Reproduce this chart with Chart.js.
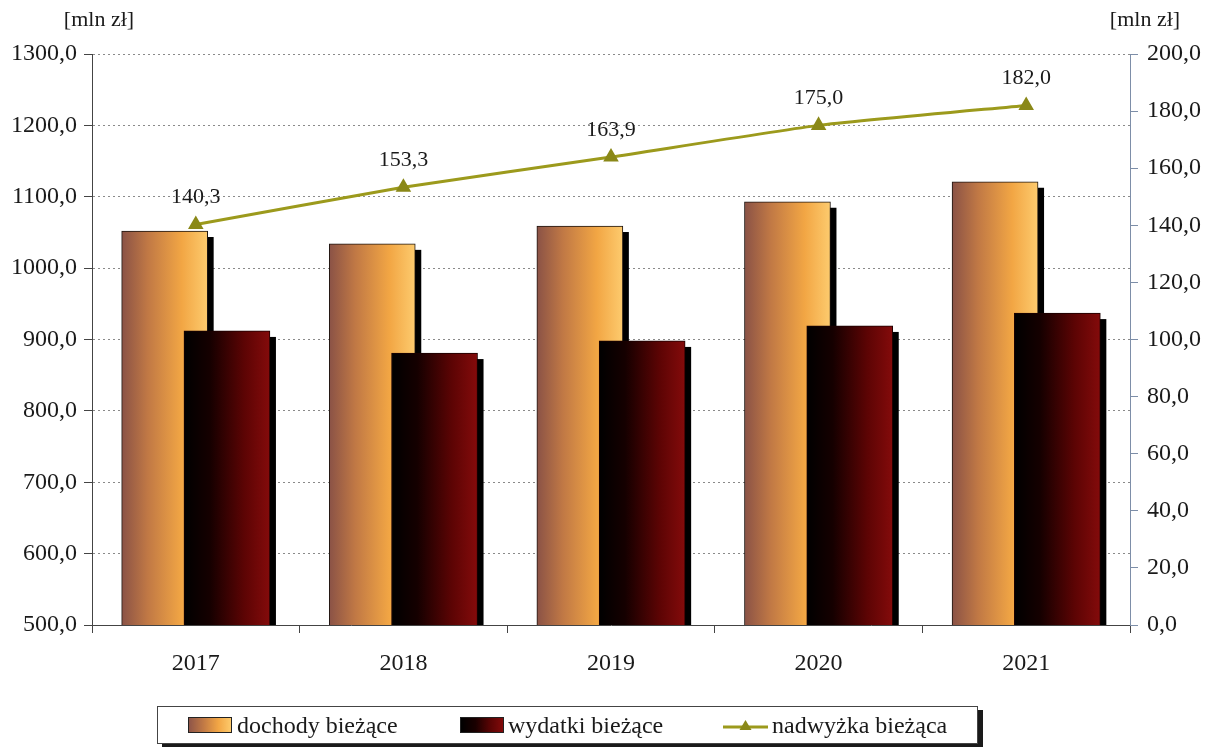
<!DOCTYPE html>
<html>
<head>
<meta charset="utf-8">
<script src="https://cdn.jsdelivr.net/npm/chart.js@4.4.1/dist/chart.umd.min.js"></script>
<style>
  body { margin: 0; background: #fff; }
  #wrap { position: relative; width: 1213px; height: 747px; font-family: "Liberation Serif", serif; }
  #legend { position: absolute; left: 157px; top: 706px; width: 819px; height: 36px; border: 1px solid #444;
            box-shadow: 5px 4px 0 #1a1a1a; background: #fff; font-size: 24px; color: #1a1a1a; }
  #legend .it { position: absolute; top: 0; height: 36px; line-height: 36px; white-space: nowrap; }
  #legend .sw { position: absolute; top: 10px; width: 44px; height: 16px; box-sizing: border-box; border: 1px solid #222; }
</style>
</head>
<body>
<div id="wrap">
  <canvas id="chart-bar" width="1213" height="747"></canvas>
  <div id="legend">
    <div class="sw" style="left:30px;background:linear-gradient(90deg,#8e5548,#c27a45 35%,#f2a645 70%,#fdca6c)"></div>
    <div class="it" style="left:79px">dochody bieżące</div>
    <div class="sw" style="left:302px;background:linear-gradient(90deg,#000,#1a0000 35%,#5a0404 70%,#820a0a)"></div>
    <div class="it" style="left:350px">wydatki bieżące</div>
    <svg style="position:absolute;left:565px;top:10px" width="45" height="18">
      <line x1="0" y1="10" x2="45" y2="10" stroke="#9c9a1c" stroke-width="3"/>
      <polygon points="22.5,3 28.5,13 16.5,13" fill="#8a8818"/>
    </svg>
    <div class="it" style="left:614px">nadwyżka bieżąca</div>
  </div>
</div>
<script>
var years = ['2017', '2018', '2019', '2020', '2021'];
var dochody = [1052, 1034, 1059, 1093, 1121];
var wydatki = [912, 881, 898, 919, 937];
var nadwyzka = [140.3, 153.3, 163.9, 175.0, 182.0];

var fmt = function (v) { return Number(v).toFixed(1).replace('.', ','); };
var serif = "Liberation Serif";

function barGradient(stops, fallback) {
  return function (c) {
    var chart = c.chart;
    if (!chart.chartArea || !c.raw) return fallback;
    var x = chart.scales.xb.getPixelForValue(c.raw.x);
    var g = chart.ctx.createLinearGradient(x - 43, 0, x + 43, 0);
    stops.forEach(function (s) { g.addColorStop(s[0], s[1]); });
    return g;
  };
}

// black drop shadow behind each bar (drawn before the bars of the same dataset)
var shadowPlugin = {
  id: 'barShadow',
  beforeDatasetDraw: function (chart, args) {
    if (args.meta.type !== 'bar') return;
    var ctx = chart.ctx, a = chart.chartArea;
    ctx.save();
    ctx.beginPath();
    ctx.rect(a.left, a.top, a.right - a.left, a.bottom - a.top);
    ctx.clip();
    ctx.fillStyle = '#000';
    args.meta.data.forEach(function (el) {
      var p = el.getProps(['x', 'y', 'base', 'width'], true);
      ctx.fillRect(p.x - p.width / 2 + 6, p.y + 6, p.width, p.base - p.y);
    });
    ctx.restore();
  }
};

// value labels above the line + axis unit titles
var labelsPlugin = {
  id: 'lineLabels',
  afterDatasetsDraw: function (chart) {
    var ctx = chart.ctx;
    ctx.save();
    ctx.font = '22px "' + serif + '"';
    ctx.fillStyle = '#1a1a1a';
    ctx.textAlign = 'center';
    ctx.textBaseline = 'bottom';
    var meta = chart.getDatasetMeta(0);
    meta.data.forEach(function (p, i) {
      ctx.fillText(fmt(nadwyzka[i]), p.x, p.y - 16);
    });
    ctx.textBaseline = 'middle';
    ctx.fillText('[mln zł]', 99, 20);
    ctx.fillText('[mln zł]', 1145, 20);
    ctx.restore();
  }
};

var ctx = document.getElementById('chart-bar').getContext('2d');

new Chart(ctx, {
  type: 'bar',
  data: {
    labels: years,
    datasets: [{
        label: 'nadwyżka bieżąca',
        type: 'line',
        xAxisID: 'xb',
        yAxisID: 'y1',
        order: 0,
        data: nadwyzka.map(function (v, i) { return { x: i, y: v }; }),
        borderColor: '#9c9a1c',
        borderWidth: 3,
        pointStyle: 'triangle',
        pointRadius: 6,
        pointBackgroundColor: '#8a8818',
        pointBorderColor: '#8a8818',
        tension: 0.15,
        fill: false
      },
      {
        label: 'wydatki bieżące',
        xAxisID: 'xb',
        yAxisID: 'y',
        order: 1,
        grouped: false,
        barThickness: 86,
        data: wydatki.map(function (v, i) { return { x: i + 0.15, y: v }; }),
        backgroundColor: barGradient([[0, '#000'], [0.3, '#150000'], [0.7, '#5c0404'], [1, '#840b0b']], '#5c0404'),
        borderColor: '#1a0000',
        borderWidth: 1,
        borderSkipped: false
      },
      {
        label: 'dochody bieżące',
        xAxisID: 'xb',
        yAxisID: 'y',
        order: 2,
        grouped: false,
        barThickness: 86,
        data: dochody.map(function (v, i) { return { x: i - 0.15, y: v }; }),
        backgroundColor: barGradient([[0, '#8a5246'], [0.3, '#c07845'], [0.7, '#f2a644'], [1, '#fdcb6e']], '#f2a644'),
        borderColor: '#1c1410',
        borderWidth: 1,
        borderSkipped: false
      }
    ]
  },
  options: {
    responsive: false,
    animation: false,
    layout: { padding: { top: 54, left: 0, right: 0, bottom: 0 } },
    plugins: {
      legend: { display: false },
      tooltip: { enabled: false }
    },
    scales: {
      x: {
        type: 'category',
        position: 'bottom',
        offset: true,
        afterFit: function (s) { s.height = 122; },
        grid: { offset: true, drawOnChartArea: false, tickLength: 8, tickColor: '#444' },
        border: { color: '#444', width: 1 },
        ticks: { color: '#1a1a1a', padding: 16, font: { size: 24, family: serif } }
      },
      xb: {
        type: 'linear',
        display: false,
        offset: false,
        min: -0.5,
        max: 4.5
      },
      y: {
        position: 'left',
        min: 500,
        max: 1300,
        afterFit: function (s) { s.width = 92; },
        grid: { color: '#8a8a8a', tickLength: 8, tickColor: '#444', tickBorderDash: [] },
        border: { color: '#444', width: 1, dash: [2, 3] },
        ticks: { stepSize: 100, color: '#1a1a1a', padding: 7, font: { size: 24, family: serif },
                 callback: function (v) { return fmt(v); } }
      },
      y1: {
        position: 'right',
        min: 0,
        max: 200,
        afterFit: function (s) { s.width = 83; },
        grid: { drawOnChartArea: false, tickLength: 8, tickColor: '#7d8ea8' },
        border: { color: '#7d8ea8', width: 1 },
        ticks: { stepSize: 20, color: '#1a1a1a', padding: 9, font: { size: 24, family: serif },
                 callback: function (v) { return fmt(v); } }
      }
    }
  },
  plugins: [shadowPlugin, labelsPlugin]
});
</script>
</body>
</html>
